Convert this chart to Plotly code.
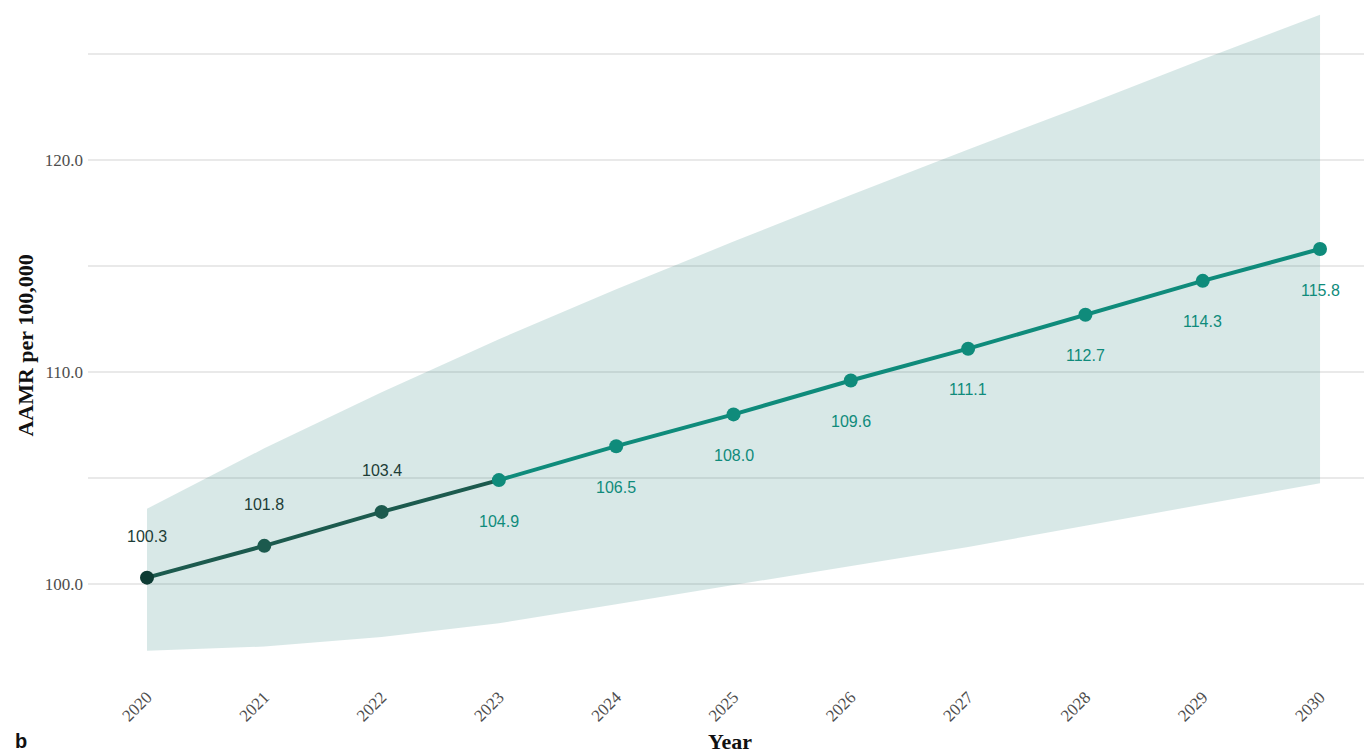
import plotly.graph_objects as go

years = [2020, 2021, 2022, 2023, 2024, 2025, 2026, 2027, 2028, 2029, 2030]
aamr = [100.3, 101.8, 103.4, 104.9, 106.5, 108.0, 109.6, 111.1, 112.7, 114.3, 115.8]
lower = [96.85, 97.05, 97.5, 98.15, 99.05, 99.95, 100.85, 101.75, 102.75, 103.75, 104.75]
upper = [103.55, 106.4, 109.05, 111.55, 113.9, 116.15, 118.35, 120.5, 122.6, 124.75, 126.85]
observed_years = [2020, 2021, 2022, 2023]
projected_years = [2023, 2024, 2025, 2026, 2027, 2028, 2029, 2030]
y_ticks = [100, 105, 110, 115, 120, 125]
y_ticktext = ["100.0", "", "110.0", "", "120.0", ""]

DARK = "#1c5a4e"
DARKEST = "#0e3c34"
TEAL = "#0f8b7b"
RIBBON = "rgba(40,130,120,0.18)"
SERIF = "Liberation Serif, Times New Roman, serif"
SANS = "Liberation Sans, Arial, sans-serif"

fig = go.Figure()

# confidence ribbon
fig.add_trace(go.Scatter(x=years, y=lower, mode="lines", line=dict(width=0),
                         showlegend=False, hoverinfo="skip"))
fig.add_trace(go.Scatter(x=years, y=upper, mode="lines", line=dict(width=0),
                         fill="tonexty", fillcolor=RIBBON, showlegend=False, hoverinfo="skip"))

val = dict(zip(years, aamr))
# projected line
fig.add_trace(go.Scatter(x=projected_years, y=[val[y] for y in projected_years], mode="lines",
                         line=dict(color=TEAL, width=4), showlegend=False))
# observed line
fig.add_trace(go.Scatter(x=observed_years, y=[val[y] for y in observed_years], mode="lines",
                         line=dict(color=DARK, width=4), showlegend=False))

marker_colors = [DARKEST, DARK, DARK] + [TEAL] * 8
fig.add_trace(go.Scatter(x=years, y=aamr, mode="markers",
                         marker=dict(color=marker_colors, size=14), showlegend=False))

annotations = []
for i, (x, y) in enumerate(zip(years, aamr)):
    hist = x < 2023
    annotations.append(dict(x=x, y=y, xref="x", yref="y", text=f"{y:.1f}", showarrow=False,
                            yshift=41 if hist else -41,
                            font=dict(family=SANS, size=16, color="#1d3d37" if hist else TEAL)))

annotations.append(dict(x=0.5, y=-0.086, xref="paper", yref="paper", text="<b>Year</b>",
                        showarrow=False, yanchor="middle",
                        font=dict(family=SERIF, size=22, color="#111111")))
annotations.append(dict(x=-0.049, y=0.5, xref="paper", yref="paper", text="<b>AAMR per 100,000</b>",
                        showarrow=False, textangle=-90, xanchor="center", yanchor="middle",
                        font=dict(family=SERIF, size=22, color="#111111")))
annotations.append(dict(x=-0.052, y=-0.086, xref="paper", yref="paper", text="<b>b</b>",
                        showarrow=False, xanchor="center", yanchor="middle",
                        font=dict(family=SANS, size=20, color="#111111")))

fig.update_layout(
    width=1364, height=745,
    margin=dict(l=80, r=0, t=0, b=70),
    paper_bgcolor="white", plot_bgcolor="white",
    annotations=annotations,
    showlegend=False,
)
fig.update_xaxes(range=[2019.497, 2030.443], tickvals=years, ticktext=[str(y) for y in years],
                 tickangle=-45, showgrid=False, zeroline=False, showline=False, ticks="",
                 tickfont=dict(family=SERIF, size=17, color="#4d4d4d"))
fig.update_yaxes(range=[95.33, 127.17], tickvals=y_ticks, ticktext=y_ticktext,
                 showgrid=True, gridcolor="#e9e9e9", gridwidth=1.6, zeroline=False, showline=False,
                 ticks="", ticklabelstandoff=4,
                 tickfont=dict(family=SERIF, size=17, color="#4d4d4d"))

fig.write_html("out.html")
